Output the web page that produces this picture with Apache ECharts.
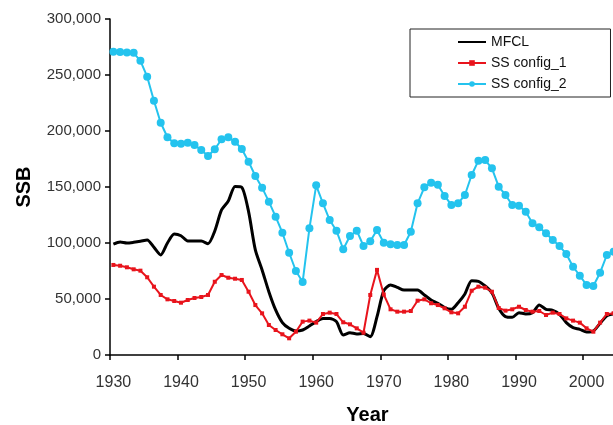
<!DOCTYPE html>
<html>
<head>
<meta charset="utf-8">
<script src="https://cdn.jsdelivr.net/npm/echarts@6/dist/echarts.min.js"></script>
<style>
html,body{margin:0;padding:0;background:#fff;}
#chart{width:613px;height:425px;}
</style>
</head>
<body>
<div id="chart"></div>
<script>
var years = [];
for (var y = 1930; y <= 2004; y++) years.push(String(y));

var mfcl = [
 99000,100900,100000,100600,101500,102700,96100,89300,100000,108000,
 106500,101800,101800,101800,99400,110700,129500,137500,150500,149700,
 128000,93800,75900,56500,40200,28900,23800,21400,22300,25900,
 29800,32700,32700,29800,17900,19900,18800,19300,16400,34200,
 57400,62500,60400,58000,58000,58000,53600,49100,46200,42300,
 40800,46700,54500,66400,65800,61600,55600,41700,34200,33600,
 37800,36600,37800,44600,40800,39900,36300,28900,24400,22900,
 20500,21400,28300,35100,36600
];
var ssConfig1 = [
 80400,79700,78300,76500,75300,69400,61000,53600,49700,48200,
 46700,49100,50900,51800,53600,65400,71400,69000,68100,67000,
 56500,44600,37200,26800,22300,18500,14900,20800,29800,30700,
 28900,36600,37800,36600,29200,27400,23800,19900,53600,76000,
 54000,40800,38700,38700,39300,48500,49700,46200,44600,41700,
 38100,37200,43100,57400,61000,60100,56500,42000,39600,40800,
 43100,40200,38700,39300,35700,37800,36600,32700,30700,28900,
 23800,20800,28900,36600,37200
];
var ssConfig2 = [
 270800,270500,270200,269800,262700,248500,227000,207400,194400,189000,
 188700,189600,187500,183000,177700,183700,192600,194400,190400,183900,
 172600,159800,149400,136900,123500,109200,91300,75000,65200,113100,
 151500,135400,120500,111000,94400,106300,111000,97300,101500,111600,
 100300,98800,98200,98200,110100,135400,149700,153800,152100,142000,
 134000,135400,142900,160700,173500,174100,166700,150300,142900,133900,
 133300,128000,117600,114000,108700,102700,97300,90200,78800,70800,
 62500,61600,73500,89300,92200
];
var seriesNames = ['MFCL', 'SS config_1', 'SS config_2'];

var FONT = 'Liberation Sans, Arial, sans-serif';
var chart = echarts.init(document.getElementById('chart'), null, {renderer: 'canvas'});
chart.setOption({
  animation: false,
  backgroundColor: '#fff',
  textStyle: {fontFamily: FONT},
  grid: {left: 110, right: -4, top: 19, bottom: 70, containLabel: false, outerBoundsMode: 'none'},
  legend: {
    orient: 'vertical',
    left: 410, top: 29,
    padding: [5, 44, 5, 47],
    itemWidth: 28, itemHeight: 7, itemGap: 5,
    backgroundColor: '#fff',
    borderColor: '#222', borderWidth: 1,
    textStyle: {fontFamily: FONT, fontSize: 14, color: '#111', lineHeight: 16},
    data: [
      {name: seriesNames[0], itemStyle: {opacity: 0}},
      {name: seriesNames[1]},
      {name: seriesNames[2]}
    ]
  },
  xAxis: {
    type: 'category',
    data: years,
    boundaryGap: true,
    name: 'Year',
    nameLocation: 'middle',
    nameGap: 50,
    nameTextStyle: {fontFamily: FONT, fontSize: 20, fontWeight: 'bold', color: '#000', padding: [0, 0, 0, 8]},
    axisLine: {lineStyle: {color: '#000', width: 1.5}},
    axisTick: {show: true, interval: 9, length: 5, inside: false, lineStyle: {color: '#000', width: 1.5}},
    axisLabel: {interval: 9, fontSize: 16, color: '#333', margin: 20, fontFamily: FONT},
    splitLine: {show: false}
  },
  yAxis: {
    type: 'value',
    min: 0, max: 300000, interval: 50000,
    name: 'SSB',
    nameLocation: 'middle',
    nameGap: 76,
    nameTextStyle: {fontFamily: FONT, fontSize: 20, fontWeight: 'bold', color: '#000'},
    axisLine: {show: true, lineStyle: {color: '#000', width: 1.5}},
    axisTick: {show: true, length: 5, lineStyle: {color: '#000', width: 1.5}},
    axisLabel: {
      fontSize: 15, color: '#333', margin: 9, fontFamily: FONT,
      formatter: function (v) { return String(v).replace(/\B(?=(\d{3})+(?!\d))/g, ','); }
    },
    splitLine: {show: false}
  },
  series: [
    {
      name: seriesNames[0], type: 'line', data: mfcl,
      smooth: 0.25, showSymbol: false, symbol: 'none',
      lineStyle: {color: '#000', width: 3},
      itemStyle: {color: '#000'}
    },
    {
      name: seriesNames[1], type: 'line', data: ssConfig1,
      symbol: 'rect', symbolSize: 4, showSymbol: true, showAllSymbol: true,
      lineStyle: {color: '#E8141C', width: 2},
      itemStyle: {color: '#E8141C'}
    },
    {
      name: seriesNames[2], type: 'line', data: ssConfig2,
      symbol: 'circle', symbolSize: 8, showSymbol: true, showAllSymbol: true,
      lineStyle: {color: '#24C3EE', width: 2},
      itemStyle: {color: '#24C3EE'}
    }
  ]
});
</script>
</body>
</html>
